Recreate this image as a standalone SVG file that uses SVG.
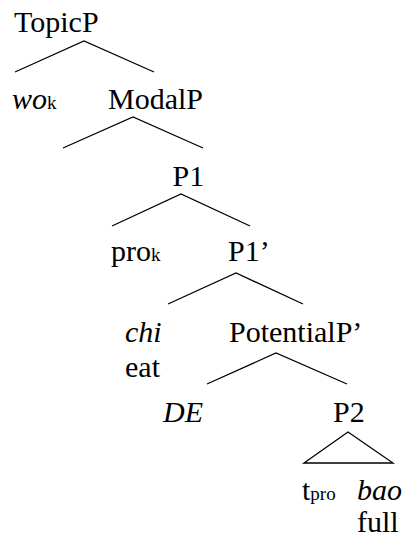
<svg xmlns="http://www.w3.org/2000/svg" width="404" height="539" viewBox="0 0 404 539">
<style>
text{font-family:"Liberation Serif","Times New Roman",serif;font-size:30px;fill:#000}
.it{font-style:italic}
.sub{font-size:19px;font-style:normal}
.ln{stroke:#000;stroke-width:1.3;fill:none}
</style>
<rect width="404" height="539" fill="#fff"/>
<g id="connectors">
<path class="ln" d="M15,72 L84,41 L154,72"/>
<path class="ln" d="M63,148 L133,117 L203,148"/>
<path class="ln" d="M112,226 L181,194 L250,226"/>
<path class="ln" d="M168,304 L236,273 L303,304"/>
<path class="ln" d="M207,384 L276,353 L347,384"/>
<path class="ln" d="M304,463 L348,432 L393,463 Z"/>
</g>
<g id="topicp"><text x="14" y="32">TopicP</text></g>
<g id="wo"><text x="12" y="109"><tspan class="it">wo</tspan><tspan class="sub">k</tspan></text></g>
<g id="modalp"><text x="108" y="109">ModalP</text></g>
<g id="p1"><text x="172.5" y="186">P1</text></g>
<g id="pro"><text x="111" y="261">pro<tspan class="sub">k</tspan></text></g>
<g id="p1bar"><text x="228" y="261">P1’</text></g>
<g id="chi"><text x="125" y="342" class="it">chi</text><text x="125" y="377">eat</text></g>
<g id="potentialp"><text x="229" y="342">PotentialP’</text></g>
<g id="de"><text x="163" y="422" class="it">DE</text></g>
<g id="p2"><text x="333" y="422">P2</text></g>
<g id="tpro"><text x="302" y="500">t<tspan class="sub">pro</tspan></text></g>
<g id="bao"><text x="357" y="500" class="it">bao</text><text x="357" y="532">full</text></g>
</svg>
